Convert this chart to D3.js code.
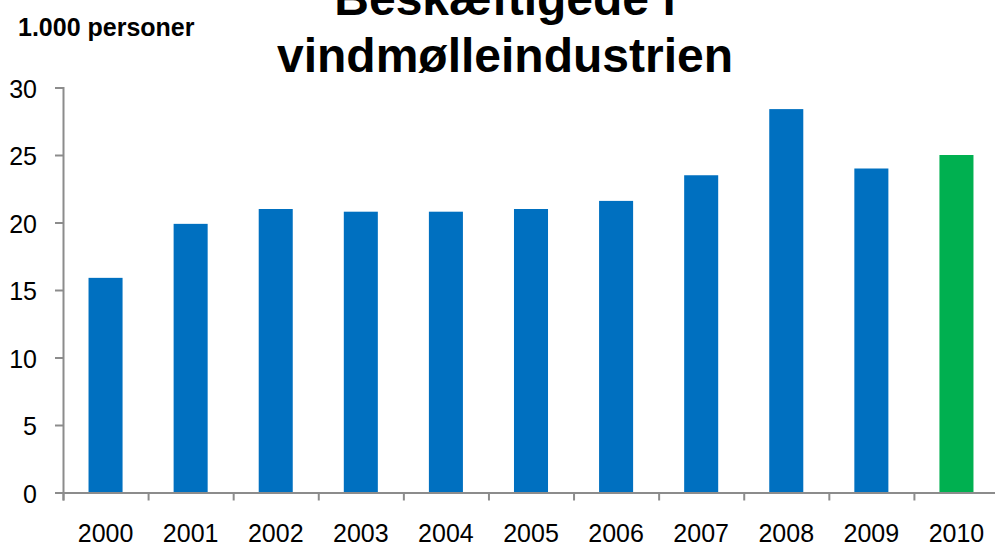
<!DOCTYPE html>
<html>
<head>
<meta charset="utf-8">
<script src="https://cdn.jsdelivr.net/npm/d3@7"></script>
<style>
  body { margin: 0; background: #fff; }
  text { font-family: "Liberation Sans", Arial, sans-serif; fill: #000; }
</style>
</head>
<body>
<div class="visHolder"></div>
<script>
const width = 995;
const height = 548;

// data
const years = ["2000","2001","2002","2003","2004","2005","2006","2007","2008","2009","2010"];
const employed = [15.9, 19.9, 21, 20.8, 20.8, 21, 21.6, 23.5, 28.4, 24, 25];
const yTicks = [0, 5, 10, 15, 20, 25, 30];
const titleLines = ["Beskæftigede i", "vindmølleindustrien"];
const unitLabel = "1.000 personer";

const plotLeft = 63, plotRight = 999, plotTop = 87.5, plotBottom = 492.5;

const svg = d3.select(".visHolder")
  .append("svg")
  .attr("width", width)
  .attr("height", height);

const xScale = d3.scaleBand()
  .domain(years)
  .range([plotLeft, plotRight])
  .paddingInner(0.6)
  .paddingOuter(0.3);

// edges between categories, for the tick marks
const xEdge = d3.scaleLinear()
  .domain([0, years.length])
  .range([plotLeft, plotRight]);

const yScale = d3.scaleLinear()
  .domain([0, 30])
  .range([plotBottom, plotTop]);

// bars
svg.selectAll("rect.bar")
  .data(employed)
  .enter()
  .append("rect")
  .attr("class", "bar")
  .attr("x", (d, i) => xScale(years[i]))
  .attr("y", d => yScale(d))
  .attr("width", xScale.bandwidth())
  .attr("height", d => yScale(0) - yScale(d))
  .style("fill", (d, i) => i === years.length - 1 ? "#00B050" : "#0070C0");

// y axis
const yAxis = svg.append("g")
  .attr("transform", `translate(${plotLeft},0)`)
  .call(d3.axisLeft(yScale).tickValues(yTicks).tickSize(8).tickPadding(18));
yAxis.select(".domain").attr("stroke", "#8c8c8c").attr("stroke-width", 2);
yAxis.selectAll(".tick line").attr("stroke", "#8c8c8c").attr("stroke-width", 2);
yAxis.selectAll(".tick text")
  .attr("font-size", 25)
  .attr("dy", "0.38em")
  .style("font-family", "'Liberation Sans', Arial, sans-serif")
  .attr("fill", "#000");

// x axis: tick marks at edges
const xTicks = svg.append("g")
  .attr("transform", `translate(0,${plotBottom})`)
  .call(d3.axisBottom(xEdge).tickValues(d3.range(years.length + 1)).tickSize(8).tickFormat(""));
xTicks.select(".domain").attr("stroke", "#8c8c8c").attr("stroke-width", 2);
xTicks.selectAll(".tick line").attr("stroke", "#8c8c8c").attr("stroke-width", 2);

// x axis: labels centred on bars
const xLabels = svg.append("g")
  .attr("transform", `translate(0,${plotBottom})`)
  .call(d3.axisBottom(xScale).tickSize(0).tickPadding(32));
xLabels.select(".domain").remove();
xLabels.selectAll(".tick text")
  .attr("font-size", 25)
  .style("font-family", "'Liberation Sans', Arial, sans-serif")
  .attr("fill", "#000");

// unit label
svg.append("text")
  .attr("x", 18)
  .attr("y", 36)
  .attr("font-size", 25)
  .attr("font-weight", "bold")
  .text(unitLabel);

// title (top line cut off by the frame)
svg.selectAll("text.title")
  .data(titleLines)
  .enter()
  .append("text")
  .attr("class", "title")
  .attr("text-anchor", "middle")
  .attr("x", 505)
  .attr("y", (d, i) => 15 + i * 57)
  .attr("font-size", 48)
  .attr("font-weight", "bold")
  .text(d => d);
</script>
</body>
</html>
